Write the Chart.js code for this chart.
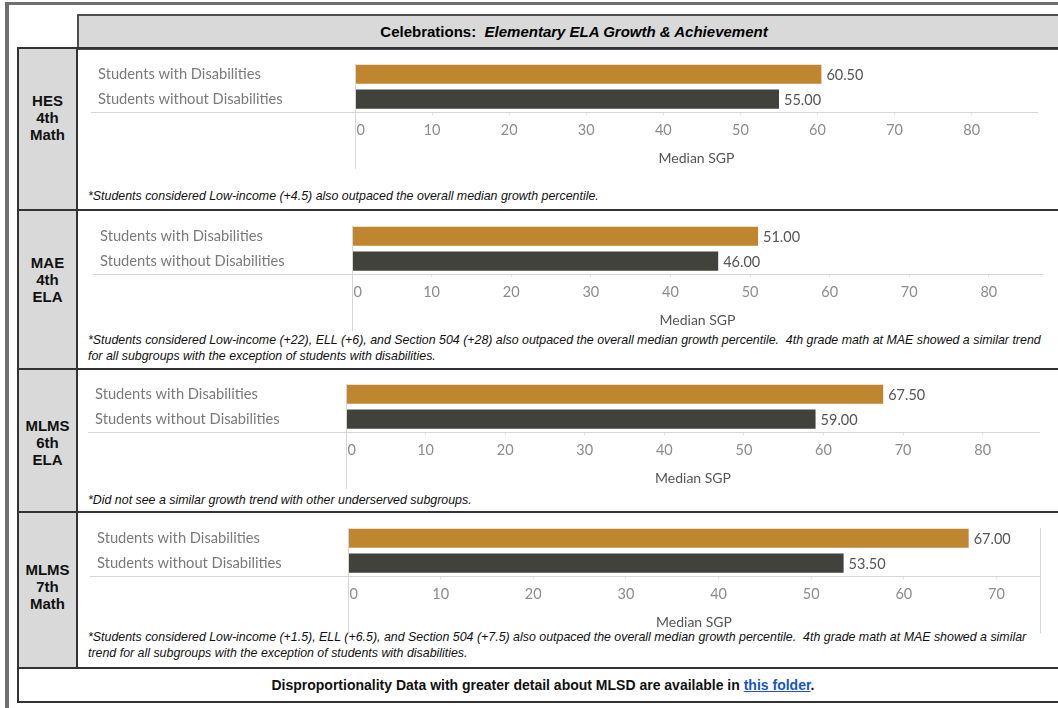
<!DOCTYPE html>
<html>
<head>
<meta charset="utf-8">
<script src="https://cdn.jsdelivr.net/npm/chart.js@4.4.0/dist/chart.umd.min.js"></script>
<style>
    * { box-sizing: border-box; }
    body {
        margin: 0;
        width: 1058px;
        height: 708px;
        overflow: hidden;
        position: relative;
        background: #fff;
        font-family: "Liberation Sans", Arial, sans-serif;
    }
    .frame {
        position: absolute;
        left: 5px;
        top: 2px;
        width: 1100px;
        height: 800px;
        border-top: 3px solid #6e6e6e;
        border-left: 4px solid #6e6e6e;
    }
    .header {
        position: absolute;
        left: 77px;
        top: 14px;
        width: 994px;
        height: 36px;
        background: #d9d9d9;
        border: 2px solid #4d4d4d;
        font-weight: bold;
        font-size: 15px;
        line-height: 32px;
        text-align: center;
        color: #000;
    }
    .row {
        position: absolute;
        left: 17px;
        width: 1060px;
        border: 2px solid #333;
    }
    .side {
        position: absolute;
        left: 0;
        top: 0;
        bottom: 0;
        width: 59px;
        background: #d9d9d9;
        border-right: 2px solid #333;
    }
    .side-label {
        position: absolute;
        left: 0;
        width: 59px;
        text-align: center;
        font-weight: bold;
        font-size: 15px;
        line-height: 17px;
        color: #111;
    }
    .chart-box {
        position: absolute;
        left: 88px;
        width: 965px;
        height: 119px;
    }
    .note {
        position: absolute;
        left: 88px;
        font-style: italic;
        font-size: 12.4px;
        line-height: 16px;
        color: #111;
        white-space: nowrap;
    }
    .footer {
        position: absolute;
        left: 17px;
        top: 667px;
        width: 1060px;
        height: 36px;
        border: 2px solid #333;
        font-weight: bold;
        font-size: 14px;
        line-height: 32px;
        padding-right: 8px;
        text-align: center;
        color: #111;
    }
    .footer a { color: #1a55c4; }
</style>
</head>
<body>
<div class="frame"></div>
<div class="header">Celebrations:&nbsp; <i>Elementary ELA Growth &amp; Achievement</i></div>
<div id="rows"></div>
<div class="footer">Disproportionality Data with greater detail about MLSD are available in <a href="#">this folder</a>.</div>

<script>
// chart data
const rowLabels = [["HES", "4th", "Math"], ["MAE", "4th", "ELA"], ["MLMS", "6th", "ELA"], ["MLMS", "7th", "Math"]];
const categories = ["Students with Disabilities", "Students without Disabilities"];
const withDisabilities = [60.5, 51.0, 67.5, 67.0];
const withoutDisabilities = [55.0, 46.0, 59.0, 53.5];
const axisMax = [88.6, 86.8, 87.2, 74.7];
const tickStep = 10;
const axisTitle = "Median SGP";
const footnotes = [
    ["*Students considered Low-income (+4.5) also outpaced the overall median growth percentile."],
    ["*Students considered Low-income (+22), ELL (+6), and Section 504 (+28) also outpaced the overall median growth percentile.  4th grade math at MAE showed a similar trend",
     "for all subgroups with the exception of students with disabilities."],
    ["*Did not see a similar growth trend with other underserved subgroups."],
    ["*Students considered Low-income (+1.5), ELL (+6.5), and Section 504 (+7.5) also outpaced the overall median growth percentile.  4th grade math at MAE showed a similar",
     "trend for all subgroups with the exception of students with disabilities."]
];

// layout of each panel (page pixels)
const rowLines = [48, 210, 369, 512, 668];
const sideCenters = [118, 280, 443, 587];
const plotTops = [60, 222, 380, 524];
const labelLeft = [98, 100, 95, 97];
const zeroLeft = [355, 352, 346, 348];
const axisRight = [1038, 1043, 1040, 1040];
const noteTops = [188, 332, 492, 629];
const barColors = ["#c0852f", "#42423c"];

const boxLeft = 88;
const boxWidth = 965;
const padTop = 4;
const areaOffset = 10; // canvas top to plot top

const sgpDecor = {
    id: "sgpDecor",
    afterDatasetsDraw(chart, args, opts)
    {
        const { ctx, chartArea } = chart;
        const x = chart.scales.x;
        const y = chart.scales.y;
        const zx = Math.round(x.getPixelForValue(0)) + 0.5;
        const by = Math.round(chartArea.bottom) + 0.5;

        ctx.save();
        ctx.strokeStyle = "#d6d6d6";
        ctx.lineWidth = 1;
        ctx.beginPath();
        // row separator under the categories
        ctx.moveTo(y.left - 7, by);
        ctx.lineTo(chartArea.right, by);
        // zero line running down through the axis
        ctx.moveTo(zx, chartArea.top + 2);
        ctx.lineTo(zx, x.bottom);
        if (opts.rightLine)
        {
            const rx = Math.round(chartArea.right) + 0.5;
            ctx.moveTo(rx, chartArea.top + 2);
            ctx.lineTo(rx, x.bottom);
        }
        ctx.stroke();

        // first tick label sits to the right of the zero line
        ctx.font = "14.5px Lato";
        ctx.fillStyle = "#8c8c8c";
        ctx.textAlign = "left";
        ctx.textBaseline = "middle";
        ctx.fillText("0", zx + 1, chartArea.bottom + 4 + 6 + 8.7);

        // value labels at the end of each bar
        ctx.fillStyle = "#555";
        const meta = chart.getDatasetMeta(0);
        const values = chart.data.datasets[0].data;
        meta.data.forEach((bar, i) => {
            ctx.fillText(values[i].toFixed(2), bar.x + 5, bar.y + 1);
        });
        ctx.restore();
    }
};

const rowsEl = document.getElementById("rows");

for (let r = 0; r < rowLabels.length; r++)
{
    const row = document.createElement("div");
    row.className = "row";
    row.style.top = (rowLines[r] - 1) + "px";
    row.style.height = (rowLines[r + 1] - rowLines[r] + 2) + "px";
    const side = document.createElement("div");
    side.className = "side";
    row.appendChild(side);
    rowsEl.appendChild(row);

    const label = document.createElement("div");
    label.className = "side-label";
    label.style.left = "18px";
    label.style.top = (sideCenters[r] - 26) + "px";
    label.innerHTML = rowLabels[r].join("<br>");
    rowsEl.appendChild(label);

    const note = document.createElement("div");
    note.className = "note";
    note.style.top = noteTops[r] + "px";
    note.innerHTML = footnotes[r].map(t => t.replace(/  /g, "&nbsp; ")).join("<br>");
    rowsEl.appendChild(note);

    const box = document.createElement("div");
    box.className = "chart-box";
    box.style.top = (plotTops[r] - areaOffset) + "px";
    const canvas = document.createElement("canvas");
    box.appendChild(canvas);
    rowsEl.appendChild(box);

    const padLeft = labelLeft[r] - boxLeft;
    const yWidth = zeroLeft[r] - labelLeft[r];
    const padRight = boxLeft + boxWidth - axisRight[r];

    new Chart(canvas.getContext("2d"),
        {
        type: "bar",
        data: {
            labels: categories,
            datasets: [
                {
                    data: [withDisabilities[r], withoutDisabilities[r]],
                    backgroundColor: barColors,
                    categoryPercentage: 1,
                    barPercentage: 0.77,
                },
            ],
        },
        options: {
            indexAxis: "y",
            responsive: true,
            maintainAspectRatio: false,
            animation: false,
            layout: {
                padding: { top: padTop, left: padLeft, right: padRight, bottom: 0 },
            },
            plugins: {
                legend: { display: false },
                tooltip: { enabled: false },
                sgpDecor: { rightLine: r === 3 },
            },
            scales: {
                x: {
                    min: 0,
                    max: axisMax[r],
                    border: { display: false },
                    grid: {
                        drawOnChartArea: false,
                        drawTicks: true,
                        tickLength: 4,
                        color: "#e6e6e6",
                    },
                    ticks: {
                        stepSize: tickStep,
                        includeBounds: false,
                        padding: 6,
                        color: "#8c8c8c",
                        font: { family: "Lato", size: 14.5 },
                        callback: (v) => (v === 0 ? "" : v),
                    },
                    title: {
                        display: true,
                        text: axisTitle,
                        color: "#555",
                        font: { family: "Lato", size: 14 },
                        padding: { top: 9, bottom: 2 },
                    },
                },
                y: {
                    border: { display: false },
                    grid: { display: false },
                    afterFit: (scale) => { scale.width = yWidth; },
                    ticks: {
                        crossAlign: "far",
                        color: "#7a7a7a",
                        font: { family: "Lato", size: 14.7 },
                    },
                },
            },
        },
        plugins: [sgpDecor],
    });
}
</script>
</body>
</html>
